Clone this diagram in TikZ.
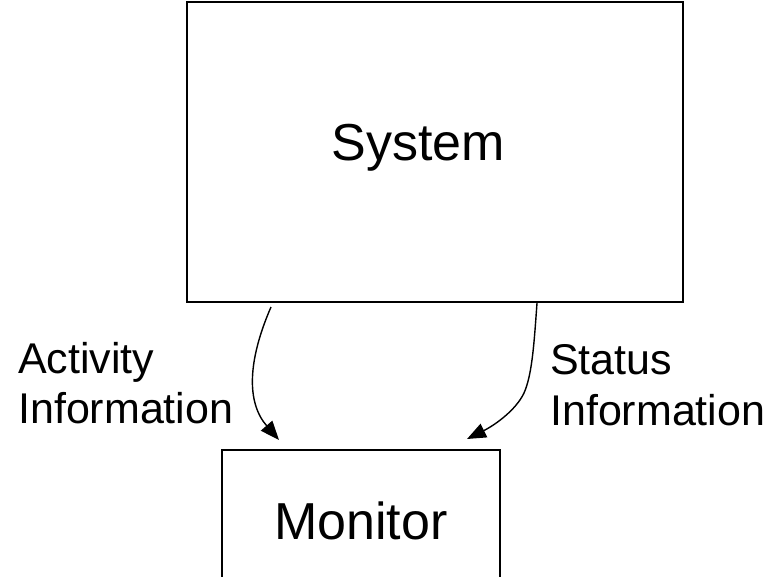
\documentclass[tikz,border=0pt]{standalone}
\usepackage{fontspec}
\setmainfont{Liberation Sans}
\usetikzlibrary{arrows.meta}
\begin{document}
\begin{tikzpicture}[x=1pt,y=-1pt,
  box/.style={draw, line width=1.8pt, inner sep=0pt},
  lbl/.style={font=\fontsize{43}{50}\selectfont, inner sep=0pt, anchor=base west},
  big/.style={font=\fontsize{52}{60}\selectfont, inner sep=0pt},
  flow/.style={line width=1.4pt, -{Triangle[length=19pt,width=15pt]}}]
\useasboundingbox (0,0) rectangle (774,576);

% the two blocks
\node[box, minimum width=496pt, minimum height=300pt] (sys) at (435,152) {};
\node[big, anchor=base] (systext) at (418,160) {System};
\node[box, big, minimum width=278pt, minimum height=142pt] (mon) at (361,521) {Monitor};

% flow labels
\node[lbl] (act1) at (18,373) {Activity};
\node[lbl] (act2) at (18,423) {Information};
\node[lbl] (st1) at (550,374) {Status};
\node[lbl] (st2) at (550,425) {Information};

% information flows from the system to the monitor
\coordinate (a1) at (271,307);
\coordinate (a2) at (279,440);
\coordinate (b1) at (537,303);
\coordinate (b2) at (467,439);
\draw[flow] (a1) .. controls (248,360) and (246,402) .. (a2);
\draw[flow] (b1) .. controls (534,345) and (532,375) .. (524,393)
            .. controls (516,410) and (495,425) .. (b2);
\end{tikzpicture}
\end{document}
